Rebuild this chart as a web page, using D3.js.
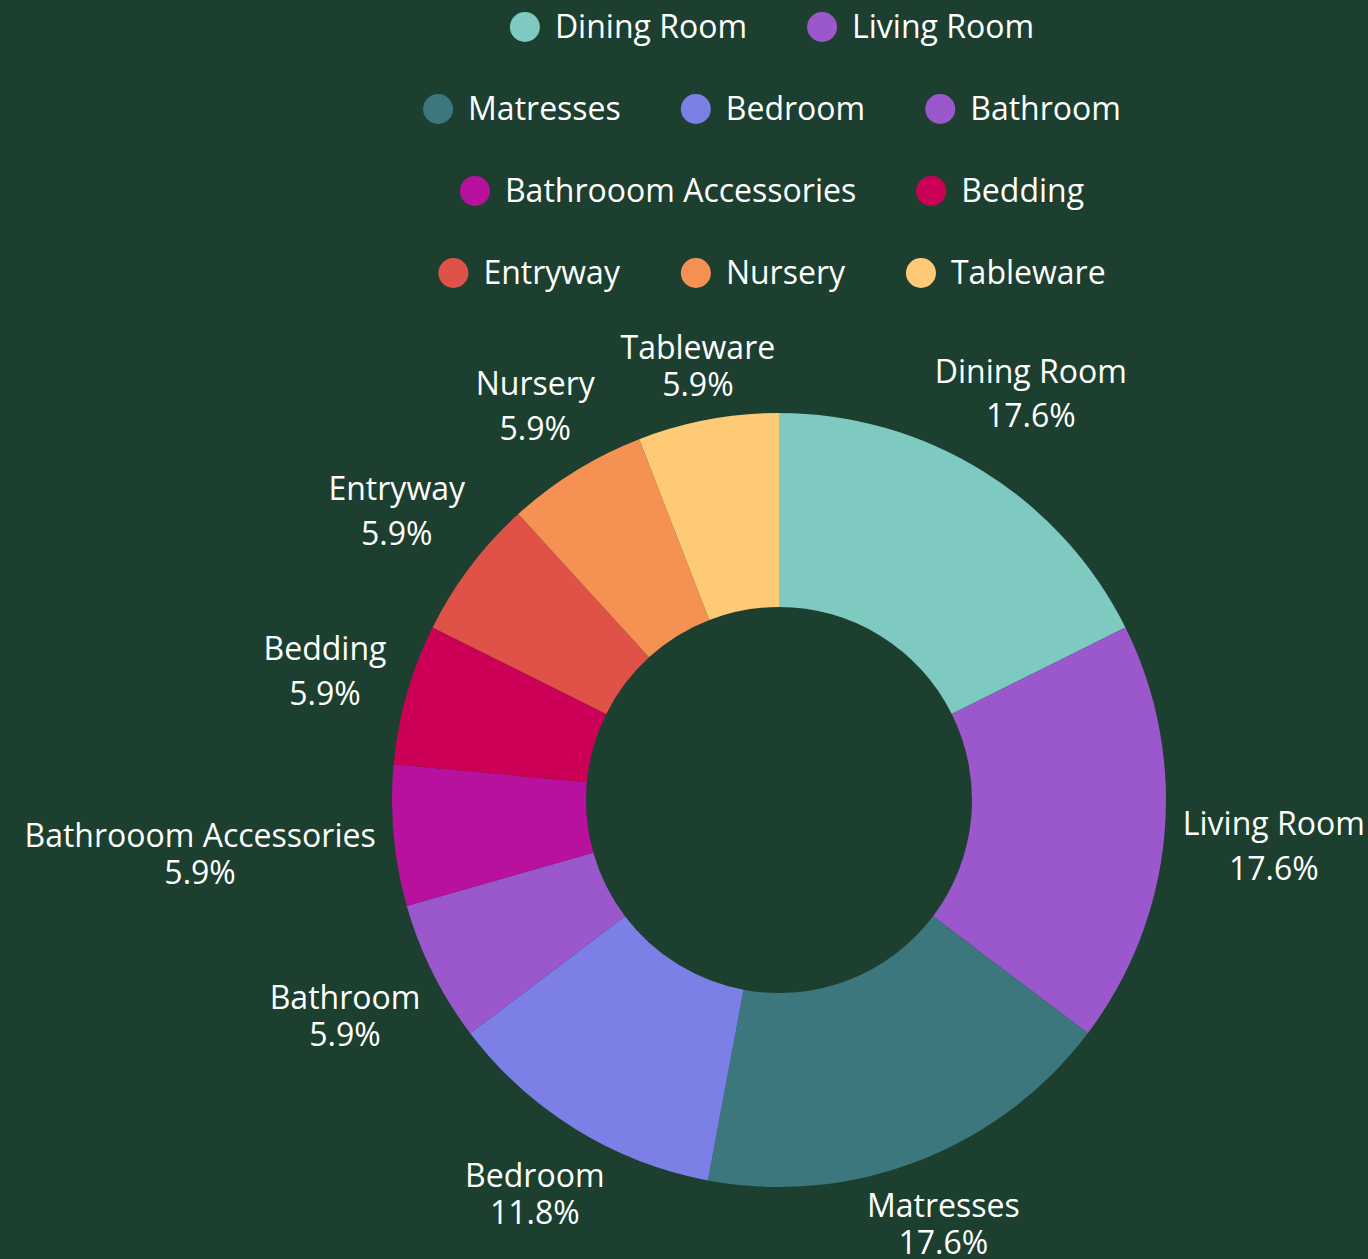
<!DOCTYPE html>
<html>
<head>
<meta charset="utf-8">
<script src="https://cdn.jsdelivr.net/npm/d3@7"></script>
<style>
  html, body { margin: 0; padding: 0; background: #1c3f2f; }
  svg { display: block; font-family: "Open Sans", "Noto Sans", sans-serif; }
</style>
</head>
<body>
<div id="chart"></div>
<script>
const categories = ["Dining Room", "Living Room", "Matresses", "Bedroom", "Bathroom",
    "Bathrooom Accessories", "Bedding", "Entryway", "Nursery", "Tableware"];
const counts = [3, 3, 3, 2, 1, 1, 1, 1, 1, 1];
const colors = ["#7ecac1", "#9a58cc", "#3b777c", "#7c80e6", "#9a58cc",
    "#b8119e", "#cd0058", "#e05247", "#f59152", "#ffca76"];

const WIDTH = 1368;
const HEIGHT = 1259;
const CX = 779, CY = 800;
const OUTER = 387, INNER = 193;
const LABEL_DIST = 404;
const FONT_SIZE = 32;
const CAP = 0.72 * FONT_SIZE;      // ink height above baseline
const DESC = 0.24 * FONT_SIZE;     // ink depth of g, y, ...
const LINE_GAP = 14;               // ink gap between the two label lines

const data = categories.map((c, i) => ({ name: c, value: counts[i], color: colors[i] }));
const total = d3.sum(counts);
const pct = d3.format(".1%");

const svg = d3.select("#chart").append("svg")
    .attr("width", WIDTH)
    .attr("height", HEIGHT);

svg.append("rect").attr("width", WIDTH).attr("height", HEIGHT).attr("fill", "#1c3f2f");

// donut
const pie = d3.pie().sort(null).value(d => d.value);
const arc = d3.arc().innerRadius(INNER).outerRadius(OUTER);
const arcs = pie(data);

const g = svg.append("g").attr("transform", `translate(${CX},${CY})`);
g.selectAll("path.slice")
    .data(arcs)
    .join("path")
    .attr("class", "slice")
    .attr("d", arc)
    .attr("fill", d => d.data.color);

// outside labels: slide the ink box out along the mid angle until it clears the ring
function boxDistance(cx, cy, w, h) {
    const dx = Math.max(Math.abs(cx) - w / 2, 0);
    const dy = Math.max(Math.abs(cy) - h / 2, 0);
    return Math.hypot(dx, dy);
}

const labels = g.selectAll("g.label")
    .data(arcs)
    .join("g")
    .attr("class", "label");

labels.each(function(d) {
    const sel = d3.select(this);
    const step = (/[gjpqy]/.test(d.data.name) ? DESC : 0) + LINE_GAP + CAP;
    const h = CAP + step;
    const t = sel.append("text")
        .attr("fill", "#ffffff")
        .attr("font-size", FONT_SIZE)
        .attr("text-anchor", "middle");
    t.append("tspan").attr("x", 0).attr("y", CAP - h / 2).text(d.data.name);
    t.append("tspan").attr("x", 0).attr("y", CAP - h / 2 + step).text(pct(d.value / total));
    const w = this.getBBox().width;

    const a = (d.startAngle + d.endAngle) / 2;
    const ux = Math.sin(a), uy = -Math.cos(a);
    let lo = 0, hi = 1000;
    for (let k = 0; k < 50; k++) {
        const m = (lo + hi) / 2;
        if (boxDistance(ux * m, uy * m, w, h) < LABEL_DIST) lo = m; else hi = m;
    }
    sel.attr("transform", `translate(${ux * hi},${uy * hi})`);
});

// legend, flowed into centred rows
const LEGEND_MAX = 740;
const LEGEND_CENTER = 772;
const ROW_Y0 = 27, ROW_STEP = 82;
const DOT_R = 15, DOT_GAP = 15, ITEM_GAP = 60;

const legend = svg.append("g").attr("class", "legend");
const items = legend.selectAll("g.item")
    .data(data)
    .join("g")
    .attr("class", "item");
items.append("circle").attr("r", DOT_R).attr("cx", DOT_R).attr("fill", d => d.color);
items.append("text")
    .attr("x", DOT_R * 2 + DOT_GAP)
    .attr("dy", "0.35em")
    .attr("fill", "#ffffff")
    .attr("font-size", FONT_SIZE)
    .text(d => d.name);

const rows = [];
let row = [], rowW = 0;
items.each(function(d) {
    const w = this.getBBox().width;
    if (row.length && rowW + ITEM_GAP + w > LEGEND_MAX) {
        rows.push({ items: row, width: rowW });
        row = []; rowW = 0;
    }
    rowW = row.length ? rowW + ITEM_GAP + w : w;
    row.push({ node: this, w });
});
if (row.length) rows.push({ items: row, width: rowW });

rows.forEach((r, ri) => {
    let x = LEGEND_CENTER - r.width / 2;
    r.items.forEach(it => {
        d3.select(it.node).attr("transform", `translate(${x},${ROW_Y0 + ri * ROW_STEP})`);
        x += it.w + ITEM_GAP;
    });
});
</script>
</body>
</html>
